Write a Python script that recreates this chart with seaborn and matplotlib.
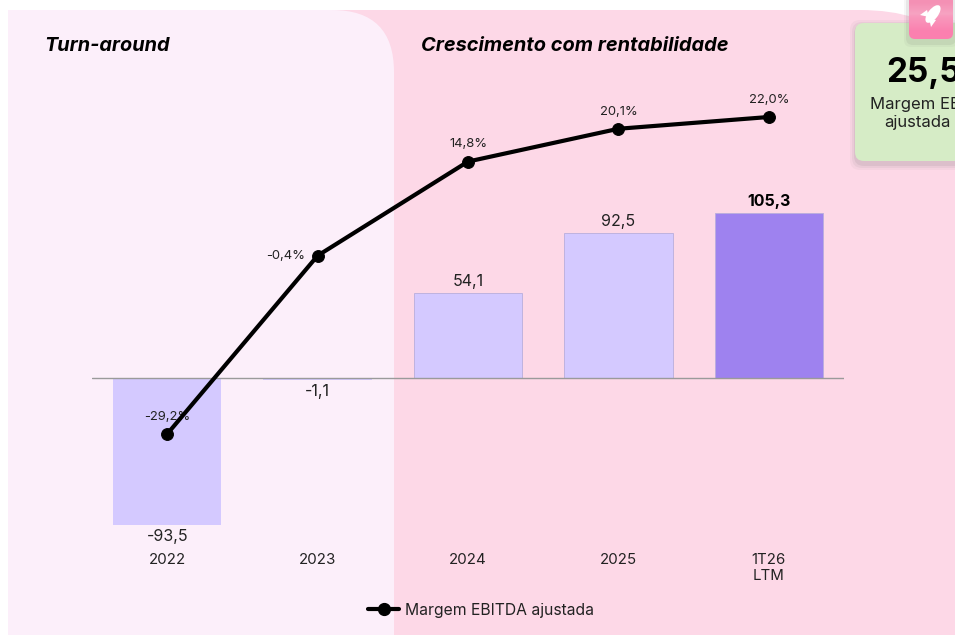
import seaborn as sns
import matplotlib.pyplot as plt
import numpy as np
import pandas as pd
from matplotlib.path import Path
from matplotlib.patches import PathPatch, FancyBboxPatch, Ellipse, Polygon
from matplotlib.lines import Line2D
from matplotlib.colors import LinearSegmentedColormap

# Data
categories = ['2022', '2023', '2024', '2025', '1T26\nLTM']
ebitda = [-93.5, -1.1, 54.1, 92.5, 105.3]
margem = [-29.2, -0.4, 14.8, 20.1, 22.0]
bar_colors = ['#D4C9FF', '#D4C9FF', '#D4C9FF', '#D4C9FF', '#9E82EF']

W, H = 955, 635
sns.set_theme(style='white')
plt.rcParams['font.family'] = ['Inter', 'DejaVu Sans']
TXT = '#222222'

fig = plt.figure(figsize=(W / 100, H / 100), dpi=100, facecolor='white')

# background layer in pixel coordinates
bg = fig.add_axes([0, 0, 1, 1], zorder=0)
bg.set_xlim(0, W)
bg.set_ylim(H, 0)
bg.axis('off')


def panel(x0, x1, y0, y1, r, color):
    # rectangle with only the top right corner rounded
    verts = [(x0, y0), (x1 - r, y0), (x1, y0), (x1, y0 + r), (x1, y1), (x0, y1), (x0, y0)]
    codes = [Path.MOVETO, Path.LINETO, Path.CURVE3, Path.CURVE3, Path.LINETO, Path.LINETO, Path.CLOSEPOLY]
    bg.add_patch(PathPatch(Path(verts, codes), fc=color, ec='none'))


panel(8, 985, 10, 635, 125, '#FDD8E7')
panel(8, 394, 10, 635, 62, '#FCEFFA')

bg.text(44, 46, 'Turn-around', fontsize=14.3, fontweight='bold', style='italic', color='black', va='center')
bg.text(421, 46, 'Crescimento com rentabilidade', fontsize=14.4, fontweight='bold', style='italic',
        color='black', va='center')

# chart, positioned so that the zero line and bar scale match
left, right, top, bottom = 92, 844, 60, 545
zero_px = 378
bar_scale = 165 / 105.3
line_scale = 317 / 51.2
line_zero_px = 117 + 22.0 * line_scale

ax = fig.add_axes([left / W, 1 - bottom / H, (right - left) / W, (bottom - top) / H], zorder=2)
ax.patch.set_alpha(0)
df = pd.DataFrame({'cat': categories, 'ebitda': ebitda, 'margem': margem})
sns.barplot(data=df, x='cat', y='ebitda', hue='cat', palette=bar_colors, legend=False, width=0.72,
            saturation=1, edgecolor='#B9AEDC', linewidth=0.6, ax=ax)
# the two bars on the pale panel have no visible outline
for bar in ax.patches[:2]:
    bar.set_edgecolor('none')
ax.set_xlim(-0.5, 4.5)
ax.set_ylim((zero_px - bottom) / bar_scale, (zero_px - top) / bar_scale)
ax.axhline(0, color='#9A9A9A', lw=1)
ax.set_xlabel('')
ax.set_ylabel('')
ax.set_yticks([])
ax.tick_params(axis='x', length=0, pad=5.5, labelsize=10.8, labelcolor=TXT)
sns.despine(ax=ax, left=True, bottom=True)

for i, v in enumerate(ebitda):
    s = f'{v:.1f}'.replace('.', ',')
    if v < 0:
        ax.annotate(s, (i, v), xytext=(0, -3), textcoords='offset points', ha='center', va='top',
                    fontsize=11.5, color=TXT)
    else:
        bold = i == len(ebitda) - 1
        ax.annotate(s, (i, v), xytext=(0, 3), textcoords='offset points', ha='center', va='bottom',
                    fontsize=11.5, color='black' if bold else TXT, fontweight='bold' if bold else 'normal')

ax2 = ax.twinx()
ax2.patch.set_alpha(0)
sns.lineplot(data=df, x='cat', y='margem', color='black', lw=3, marker='o', markersize=8.5,
             markeredgecolor='black', sort=False, errorbar=None, ax=ax2, zorder=4)
ax2.set_xlim(-0.5, 4.5)
ax2.set_ylim((line_zero_px - bottom) / line_scale, (line_zero_px - top) / line_scale)
ax2.set_yticks([])
ax2.set_ylabel('')
ax2.set_xlabel('')
sns.despine(ax=ax2, left=True, bottom=True, right=True)

label_offsets = [(0, 12.5), (-23, 0), (0, 13), (0, 12), (0, 12.5)]
for i, v in enumerate(margem):
    ax2.annotate(f'{v:.1f}%'.replace('.', ','), (i, v), xytext=label_offsets[i], textcoords='offset points',
                 ha='center', va='center', fontsize=9.4, color=TXT, zorder=3)

fig.legend(handles=[Line2D([], [], color='black', lw=3, marker='o', markersize=8.5)],
           labels=['Margem EBITDA ajustada'], loc='center', bbox_to_anchor=(481 / W, 1 - 610 / H),
           frameon=False, fontsize=11.3, handlelength=2.0, handletextpad=0.35, labelcolor=TXT)

# card and icon on top of everything
over = fig.add_axes([0, 0, 1, 1], zorder=3)
over.set_xlim(0, W)
over.set_ylim(H, 0)
over.axis('off')
over.patch.set_alpha(0)

for grow, alpha in zip([6, 4, 2], [0.05, 0.07, 0.1]):
    over.add_patch(FancyBboxPatch((855 - grow + 1, 23 - grow + 3), 140 + grow * 2, 138 + grow * 2,
                                  boxstyle='round,pad=0,rounding_size=10', fc='#666666', ec='none', alpha=alpha))
over.add_patch(FancyBboxPatch((855, 23), 140, 138, boxstyle='round,pad=0,rounding_size=9', fc='#D6ECC6', ec='none'))
over.text(886, 73, '25,5%', fontsize=24, fontweight='bold', color='black', va='center', ha='left')
over.text(870, 104, 'Margem EBITDA', fontsize=12, color=TXT, va='center', ha='left')
over.text(917, 122, 'ajustada', fontsize=12, color=TXT, va='center', ha='center')

for grow, alpha in zip([5, 3], [0.06, 0.1]):
    over.add_patch(FancyBboxPatch((909 - grow, -5 - grow + 3), 44 + grow * 2, 44 + grow * 2,
                                  boxstyle='round,pad=0,rounding_size=7', fc='#666666', ec='none', alpha=alpha))
icon = FancyBboxPatch((909, -5), 44, 44, boxstyle='round,pad=0,rounding_size=6', fc='none', ec='none')
over.add_patch(icon)
grad = np.array([[0.0], [0.65], [1.0]])
cmap = LinearSegmentedColormap.from_list('icon', ['#F490B4', '#F7A3C2', '#FB80AF'])
im = over.imshow(grad, extent=(909, 953, 39, -5), cmap=cmap, aspect='auto', interpolation='bilinear', zorder=2)
im.set_clip_path(icon)
over.set_xlim(0, W)
over.set_ylim(H, 0)

# rocket glyph
over.add_patch(Ellipse((933, 14), 10, 21, angle=38, fc='white', ec='none', zorder=3))
over.add_patch(Polygon([(920, 15), (927, 10), (929, 17)], fc='white', ec='none', zorder=3))
over.add_patch(Polygon([(931, 27), (936, 20), (929, 18)], fc='white', ec='none', zorder=3))

fig.savefig('out.png', dpi=100)
